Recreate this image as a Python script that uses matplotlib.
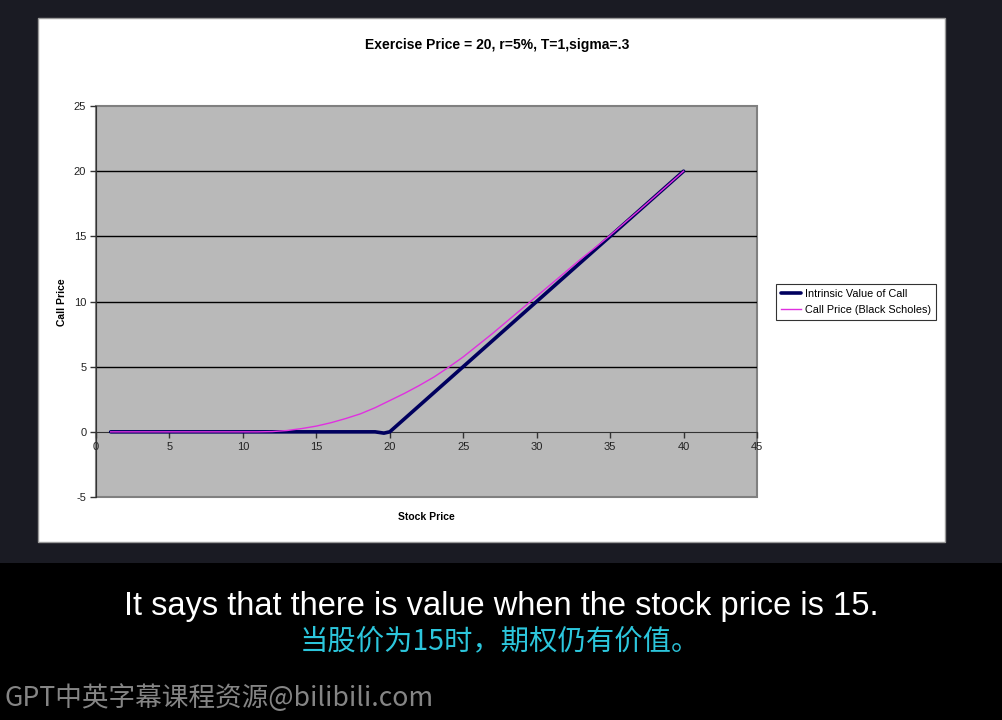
import matplotlib
matplotlib.use("Agg")
import matplotlib.pyplot as plt
from matplotlib.patches import Rectangle

plt.rcParams["axes.unicode_minus"] = False

# ---- data ----
stock_intrinsic = [1, 2, 3, 4, 5, 6, 7, 8, 9, 10, 11, 12, 13, 14, 15, 16, 17, 18, 19, 19.6,
                   20, 21, 22, 23, 24, 25, 26, 27, 28, 29, 30, 31, 32, 33, 34, 35, 36, 37, 38, 39, 40]
intrinsic = [0, 0, 0, 0, 0, 0, 0, 0, 0, 0, 0, 0, 0, 0, 0, 0, 0, 0, 0, -0.1,
             0, 1, 2, 3, 4, 5, 6, 7, 8, 9, 10, 11, 12, 13, 14, 15, 16, 17, 18, 19, 20]
stock_bs = [1, 2, 3, 4, 5, 6, 7, 8, 9, 10, 11, 12, 13, 14, 15, 16, 17, 18, 19, 20,
            21, 22, 23, 24, 25, 26, 27, 28, 29, 30, 31, 32, 33, 34, 35, 36, 37, 38, 39, 40]
call_bs = [0, 0, 0, 0, 0, 0, 0, 0, 0, 0, 0, 0.02, 0.1, 0.25, 0.44, 0.7, 1.02, 1.38, 1.85, 2.4,
           2.95, 3.55, 4.2, 4.95, 5.75, 6.65, 7.55, 8.5, 9.45, 10.4, 11.35, 12.3, 13.25, 14.15,
           15.08, 16.05, 17.02, 18.01, 19.0, 20.0]
x_ticks = [0, 5, 10, 15, 20, 25, 30, 35, 40, 45]
y_ticks = [-5, 0, 5, 10, 15, 20, 25]
title = "Exercise Price = 20, r=5%, T=1,sigma=.3"
sub_en = "It says that there is value when the stock price is 15."
sub_zh = "当股价为15时，期权仍有价值。"
watermark = "GPT中英字幕课程资源@bilibili.com"

W, H = 1002, 720
fig = plt.figure(figsize=(W / 100, H / 100), dpi=100)
fig.patch.set_facecolor("black")

# dark slide background and white chart panel
fig.add_artist(Rectangle((0, 1 - 563 / H), 1, 563 / H, transform=fig.transFigure,
                         facecolor="#1a1b23", edgecolor="none", zorder=-3))
fig.add_artist(Rectangle((38 / W, 1 - 542 / H), (945 - 38) / W, (542 - 18) / H,
                         transform=fig.transFigure, facecolor="white",
                         edgecolor="#9a9a9a", linewidth=1, zorder=-2))

ax = fig.add_axes([96 / W, 1 - 497 / H, (757 - 96) / W, (497 - 106) / H])
ax.set_facecolor("#b9b9b9")
ax.set_xlim(0, 45)
ax.set_ylim(-5, 25)
ax.set_xticks(x_ticks)
ax.set_yticks(y_ticks)

for yv in y_ticks[2:-1]:
    ax.axhline(yv, color="black", linewidth=1, zorder=1)

for s in ["top", "right"]:
    ax.spines[s].set_visible(False)
ax.add_patch(Rectangle((0, 0), 1, 1, transform=ax.transAxes, fill=False,
                       edgecolor="#808080", linewidth=1.5, zorder=0.8, clip_on=False))
ax.spines["bottom"].set_position(("data", 0))
ax.spines["bottom"].set_color("#333333")
ax.spines["left"].set_color("#333333")
ax.tick_params(axis="both", direction="out", length=4, width=1, color="#333333",
               labelsize=8, labelcolor="#222222", pad=3)
for lab in ax.get_xticklabels() + ax.get_yticklabels():
    lab.set_fontfamily("Liberation Sans")

ax.plot(stock_intrinsic, intrinsic, color="#00005e", linewidth=2.6,
        label="Intrinsic Value of Call", zorder=3, solid_capstyle="round")
ax.plot(stock_bs, call_bs, color="#e030e0", linewidth=1.0,
        label="Call Price (Black Scholes)", zorder=4)

leg = fig.legend(loc="upper left", bbox_to_anchor=(776 / W, 1 - 284 / H),
                 frameon=True, fancybox=False, edgecolor="black",
                 prop={"family": "Liberation Sans", "size": 7.8},
                 handlelength=1.9, handletextpad=0.3, borderpad=0.45,
                 labelspacing=0.55, borderaxespad=0)
leg.get_frame().set_linewidth(0.8)

fig.text(497 / W, 1 - 45 / H, title, ha="center", va="center", fontsize=10,
         fontweight="bold", family="Liberation Sans")
fig.text(62 / W, 1 - 302 / H, "Call Price", ha="center", va="center", rotation=90,
         fontsize=7.5, fontweight="bold", family="Liberation Sans")
fig.text(426 / W, 1 - 517 / H, "Stock Price", ha="center", va="center",
         fontsize=7.5, fontweight="bold", family="Liberation Sans")

fig.text(501 / W, 1 - 606 / H, sub_en, ha="center", va="center", fontsize=23.5,
         color="white", family=["Liberation Sans", "DejaVu Sans"])
fig.text(500 / W, 1 - 641 / H, sub_zh, ha="center", va="center", fontsize=20.4,
         color="#2cc6dc", family=["Noto Sans CJK SC", "DejaVu Sans"])
fig.text(5 / W, 1 - 698 / H, watermark, ha="left", va="center", fontsize=19.2,
         color="#858585", family=["Noto Sans CJK SC", "DejaVu Sans"], fontweight="light")

fig.savefig("out.png", dpi=100, facecolor=fig.get_facecolor())
